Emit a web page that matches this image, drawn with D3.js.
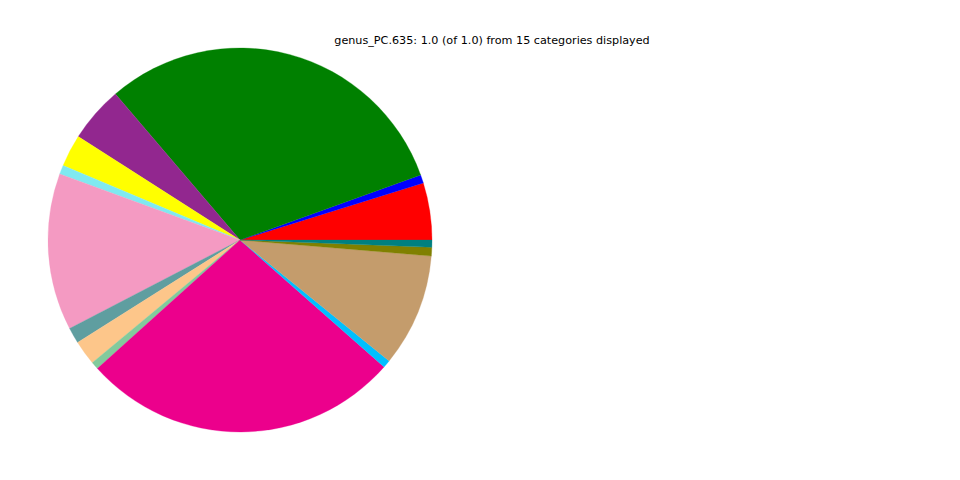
<!DOCTYPE html>
<html>
<head>
<meta charset="utf-8">
<script src="https://cdn.jsdelivr.net/npm/d3@7"></script>
<style>
  body { margin: 0; background: #fff; }
  svg { display: block; }
</style>
</head>
<body>
<div id="chart"></div>
<script>
// genus share per category (percent), in drawing order
const categories = ["cat01", "cat02", "cat03", "cat04", "cat05", "cat06", "cat07", "cat08",
                    "cat09", "cat10", "cat11", "cat12", "cat13", "cat14", "cat15"];
const values = [4.8, 0.7, 30.7, 4.7, 2.7, 0.76, 13.2, 1.33, 2.08, 0.64, 26.8, 0.65, 9.5, 0.72, 0.61];
const colors = ["#ff0000", "#0000ff", "#008000", "#92278f", "#ffff00", "#7fe9f0", "#f49ac2",
                "#5f9ea0", "#fdc68a", "#82ca9c", "#ec008c", "#00bfff", "#c49c6c", "#808000", "#008080"];
const title = "genus_PC.635: 1.0 (of 1.0) from 15 categories displayed";

const width = 960, height = 480;
const cx = 240, cy = 240, radius = 192;

const svg = d3.select("#chart").append("svg")
    .attr("width", width)
    .attr("height", height);

svg.append("text")
    .attr("x", 492)
    .attr("y", 44)
    .attr("text-anchor", "middle")
    .style("font-family", "DejaVu Sans")
    .style("font-size", "11.2px")
    .text(title);

const data = categories.map((c, i) => ({ name: c, value: values[i], color: colors[i] }));

// start at 3 o'clock, go counter-clockwise
const pie = d3.pie()
    .sort(null)
    .value(d => d.value)
    .startAngle(Math.PI / 2)
    .endAngle(Math.PI / 2 - 2 * Math.PI);

const arc = d3.arc().innerRadius(0).outerRadius(radius);

const g = svg.append("g").attr("transform", `translate(${cx},${cy})`);

g.selectAll("path")
    .data(pie(data))
    .enter().append("path")
    .attr("d", arc)
    .style("fill", d => d.data.color)
    .style("stroke", d => d.data.color)
    .style("stroke-width", 0.3);
</script>
</body>
</html>
